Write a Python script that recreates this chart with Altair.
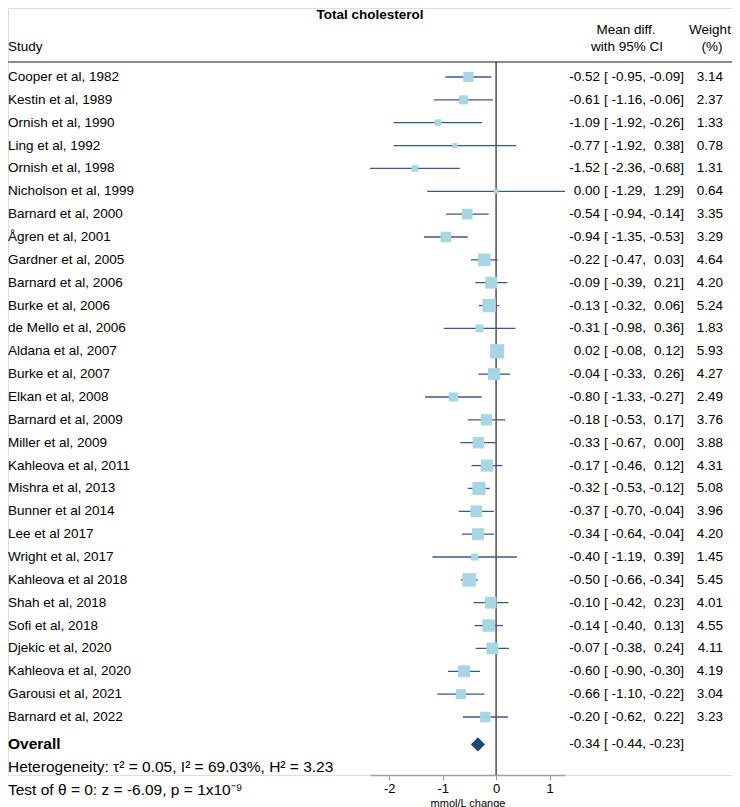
import altair as alt
import pandas as pd

title_txt = "Total cholesterol"
studies = ["Cooper et al, 1982", "Kestin et al, 1989", "Ornish et al, 1990", "Ling et al, 1992",
           "Ornish et al, 1998", "Nicholson et al, 1999", "Barnard et al, 2000", "Ågren et al, 2001",
           "Gardner et al, 2005", "Barnard et al, 2006", "Burke et al, 2006", "de Mello et al, 2006",
           "Aldana et al, 2007", "Burke et al, 2007", "Elkan et al, 2008", "Barnard et al, 2009",
           "Miller et al, 2009", "Kahleova et al, 2011", "Mishra et al, 2013", "Bunner et al 2014",
           "Lee et al 2017", "Wright et al, 2017", "Kahleova et al 2018", "Shah et al, 2018",
           "Sofi et al, 2018", "Djekic et al, 2020", "Kahleova et al, 2020", "Garousi et al, 2021",
           "Barnard et al, 2022"]
md = [-0.52, -0.61, -1.09, -0.77, -1.52, 0.00, -0.54, -0.94, -0.22, -0.09, -0.13, -0.31, 0.02, -0.04,
      -0.80, -0.18, -0.33, -0.17, -0.32, -0.37, -0.34, -0.40, -0.50, -0.10, -0.14, -0.07, -0.60, -0.66, -0.20]
lo = [-0.95, -1.16, -1.92, -1.92, -2.36, -1.29, -0.94, -1.35, -0.47, -0.39, -0.32, -0.98, -0.08, -0.33,
      -1.33, -0.53, -0.67, -0.46, -0.53, -0.70, -0.64, -1.19, -0.66, -0.42, -0.40, -0.38, -0.90, -1.10, -0.62]
hi = [-0.09, -0.06, -0.26, 0.38, -0.68, 1.29, -0.14, -0.53, 0.03, 0.21, 0.06, 0.36, 0.12, 0.26,
      -0.27, 0.17, 0.00, 0.12, -0.12, -0.04, -0.04, 0.39, -0.34, 0.23, 0.13, 0.24, -0.30, -0.22, 0.22]
weight = [3.14, 2.37, 1.33, 0.78, 1.31, 0.64, 3.35, 3.29, 4.64, 4.20, 5.24, 1.83, 5.93, 4.27,
          2.49, 3.76, 3.88, 4.31, 5.08, 3.96, 4.20, 1.45, 5.45, 4.01, 4.55, 4.11, 4.19, 3.04, 3.23]

overall_label = "Overall"
overall_md, overall_lo, overall_hi = -0.34, -0.44, -0.23
het_txt = "Heterogeneity: τ² = 0.05, I² = 69.03%, H² = 3.23"
test_txt = "Test of θ = 0: z = -6.09, p = 1x10⁻⁹"
x_ticks = [-2, -1, 0, 1]
x_domain = [-2.36, 1.29]
x_title = "mmol/L change"
header_labels = ["Study", "Mean diff.", "with 95% CI", "Weight", "(%)"]

FONT = "Liberation Sans"
FS = 13.5

df = pd.DataFrame({"study": studies, "md": md, "lo": lo, "hi": hi, "weight": weight})
df["row"] = list(range(len(studies)))
df["md_txt"] = [f"{v:.2f}" for v in md]
df["lo_txt"] = [f"{v:.2f}," for v in lo]
df["hi_txt"] = [f"{v:.2f}]" for v in hi]
df["w_txt"] = [f"{v:.2f}" for v in weight]

ov = pd.DataFrame({"study": [overall_label], "md": [overall_md], "lo": [overall_lo], "hi": [overall_hi],
                   "row": [29.2]})
ov["md_txt"] = [f"{overall_md:.2f}"]
ov["lo_txt"] = [f"{overall_lo:.2f},"]
ov["hi_txt"] = [f"{overall_hi:.2f}]"]

foot = pd.DataFrame({"t": [het_txt, test_txt], "row": [30.2, 31.2]})

xscale = alt.Scale(domain=x_domain, range=[362, 557], nice=False, zero=False)
yscale = alt.Scale(domain=[0, 28], range=[69, 709], nice=False, zero=False)
xaxis = alt.Axis(values=x_ticks, grid=False, title=x_title, domainColor="#a0a0a0", domainWidth=1.6,
                 tickColor="#a0a0a0", tickSize=5, tickWidth=1.2, labelFontSize=13, labelColor="#000",
                 labelPadding=2, labelExpr="datum.value + ''", titleFontSize=11, titleFontWeight="normal",
                 titlePadding=2, titleColor="#000", labelFont=FONT, titleFont=FONT)
Y = alt.Y("row:Q", scale=yscale, axis=None)

base = alt.Chart(df)

ci = base.mark_rule(color="#3a5a80", strokeWidth=1.3).encode(
    x=alt.X("lo:Q", scale=xscale, axis=xaxis), x2="hi:Q", y=Y)
sq = base.mark_square(color="#a9d6e5", opacity=1).encode(
    x=alt.X("md:Q", scale=xscale, axis=xaxis), y=Y,
    size=alt.Size("weight:Q", scale=alt.Scale(domain=[0, 6], range=[0, 205]), legend=None))

zero = alt.Chart(pd.DataFrame({"x": [0]})).mark_rule(color="#222", strokeWidth=1.2).encode(
    x=alt.X("x:Q", scale=xscale, axis=xaxis), y=alt.value(54), y2=alt.value(767))

hdr_line = alt.Chart(pd.DataFrame({"x": [0]})).mark_rule(color="#8a8a8a", strokeWidth=2).encode(
    x=alt.value(0), x2=alt.value(724), y=alt.value(54))

diamond = alt.Chart(ov).mark_point(shape="diamond", filled=True, color="#1d4a73", opacity=1, size=200).encode(
    x=alt.X("md:Q", scale=xscale, axis=xaxis), y=Y)

def txt(data, field, x, align, **kw):
    return alt.Chart(data).mark_text(align=align, baseline="middle", font=FONT, fontSize=kw.pop("fontSize", FS),
                                     color="#000", **kw).encode(text=f"{field}:N", x=alt.value(x), y=Y)

layers = [
    hdr_line, zero, ci, sq, diamond,
    txt(df, "study", 0, "left"),
    txt(df, "md_txt", 592, "right"),
    txt(df, "lo_txt", 638, "right"),
    txt(df, "hi_txt", 676, "right"),
    txt(df, "w_txt", 715, "right"),
    txt(ov, "study", 0, "left", fontSize=15.5, fontWeight="bold"),
    txt(ov, "md_txt", 592, "right"),
    txt(ov, "lo_txt", 638, "right"),
    txt(ov, "hi_txt", 676, "right"),
    txt(foot, "t", 0, "left", fontSize=15.5),
]

brk = alt.Chart(pd.concat([df[["row"]], ov[["row"]]])).mark_text(
    align="left", baseline="middle", font=FONT, fontSize=FS, color="#000", text="[").encode(
    x=alt.value(596), y=Y)
layers.append(brk)

def hdr_text(t, x, y, align, **kw):
    return alt.Chart(pd.DataFrame({"t": [t]})).mark_text(
        align=align, baseline="middle", font=FONT, fontSize=kw.pop("fontSize", FS), color="#000", **kw).encode(
        text="t:N", x=alt.value(x), y=alt.value(y))

layers += [
    hdr_text(title_txt, 362, 7, "center", fontSize=13.5, fontWeight="bold"),
    hdr_text(header_labels[0], 0, 39, "left"),
    hdr_text(header_labels[1], 618, 22, "center"),
    hdr_text(header_labels[2], 619, 39, "center"),
    hdr_text(header_labels[3], 702, 22, "center"),
    hdr_text(header_labels[4], 704, 39, "center"),
]

chart = alt.layer(*layers).properties(
    width=724, height=767, autosize="none",
    padding={"left": 0, "top": 0, "right": 0, "bottom": 32}
).configure_view(stroke=None).configure(font=FONT)

chart.save("out.html", embed_options={"renderer": "svg", "actions": False})
